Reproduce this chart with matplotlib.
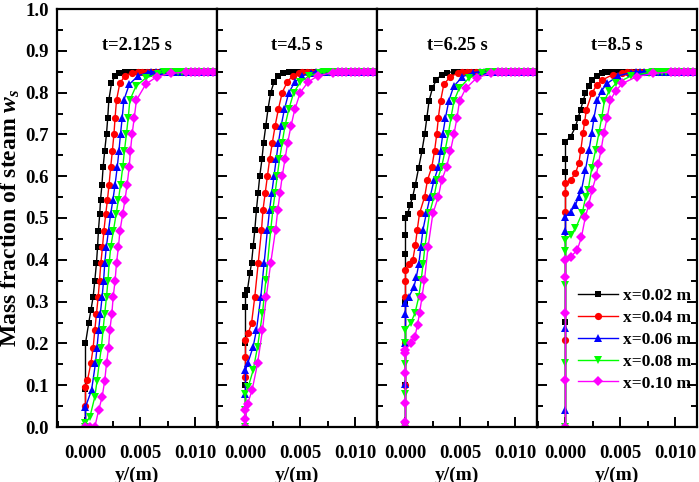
import numpy as np
import matplotlib
matplotlib.use("Agg")
import matplotlib.pyplot as plt
from matplotlib.ticker import MultipleLocator, FormatStrFormatter

plt.rcParams['font.family'] = ['Liberation Serif', 'DejaVu Serif']
plt.rcParams['font.weight'] = 'bold'
plt.rcParams['mathtext.fontset'] = 'custom'
plt.rcParams['mathtext.it'] = 'Liberation Serif:italic:bold'
plt.rcParams['mathtext.rm'] = 'Liberation Serif:bold'

# ---------------- data (y in mm, mass fraction w) ----------------
panel_titles = ["t=2.125 s", "t=4.5 s", "t=6.25 s", "t=8.5 s"]
series_labels = ["x=0.02 m", "x=0.04 m", "x=0.06 m", "x=0.08 m", "x=0.10 m"]
plateau_value = 0.85
plateau_y_mm = [3.6, 4.0, 4.4, 4.8, 5.2, 5.6, 6.0, 6.4, 6.8, 7.2, 7.6, 8.0, 8.4,
                8.8, 9.2, 9.6, 10.0, 10.4, 10.8, 11.2, 11.6, 12.0]

# t = 2.125 s
p1_x002 = [(0, 0), (0, 0.09), (0, 0.20), (0.3, 0.25), (0.5, 0.28), (0.7, 0.312), (0.85, 0.35),
           (1.0, 0.392), (1.1, 0.43), (1.18, 0.47), (1.3, 0.51), (1.37, 0.543), (1.5, 0.58),
           (1.61, 0.622), (1.75, 0.66), (1.92, 0.702), (2.03, 0.74), (2.13, 0.782),
           (2.37, 0.822), (2.7, 0.84), (3.1, 0.848)]
p1_x004 = [(0, 0), (0, 0.05), (0, 0.096), (0.18, 0.112), (0.49, 0.152), (0.7, 0.19), (0.85, 0.232),
           (1.0, 0.27), (1.16, 0.312), (1.28, 0.35), (1.4, 0.392), (1.55, 0.43), (1.68, 0.47),
           (1.85, 0.51), (2.0, 0.543), (2.15, 0.58), (2.3, 0.622), (2.45, 0.66), (2.6, 0.702),
           (2.7, 0.74), (2.83, 0.782), (3.13, 0.822), (3.6, 0.84), (4.2, 0.847)]
p1_x006 = [(0, 0), (0, 0.048), (0.55, 0.088), (0.91, 0.152), (1.05, 0.19), (1.2, 0.232),
           (1.35, 0.27), (1.52, 0.312), (1.65, 0.35), (1.76, 0.392), (1.9, 0.43), (2.1, 0.47),
           (2.3, 0.51), (2.5, 0.543), (2.7, 0.58), (2.9, 0.622), (3.05, 0.66), (3.2, 0.702),
           (3.35, 0.74), (3.5, 0.782), (4.0, 0.82), (4.8, 0.84), (5.7, 0.848)]
p1_x008 = [(0, 0), (0, 0.01), (0.4, 0.024), (0.85, 0.072), (1.05, 0.11), (1.25, 0.152),
           (1.45, 0.19), (1.6, 0.232), (1.75, 0.27), (1.92, 0.312), (2.05, 0.35), (2.16, 0.392),
           (2.3, 0.43), (2.55, 0.47), (2.8, 0.51), (3.0, 0.543), (3.2, 0.58), (3.4, 0.622),
           (3.55, 0.66), (3.74, 0.702), (3.9, 0.74), (4.05, 0.782), (4.6, 0.815), (5.5, 0.835),
           (6.6, 0.845)]
p1_x010 = [(0, 0), (0.4, 0), (0.85, 0), (1.2, 0.04), (1.52, 0.072), (1.75, 0.11), (1.92, 0.152),
           (2.1, 0.19), (2.22, 0.232), (2.4, 0.27), (2.53, 0.312), (2.7, 0.35), (2.83, 0.392),
           (3.0, 0.43), (3.15, 0.47), (3.4, 0.51), (3.6, 0.543), (3.8, 0.58), (3.99, 0.622),
           (4.1, 0.66), (4.26, 0.702), (4.45, 0.74), (4.65, 0.782), (5.5, 0.82), (6.5, 0.838),
           (7.8, 0.846), (9.2, 0.849)]

# t = 4.5 s
p2_x002 = [(0, 0), (0, 0.10), (0, 0.20), (0, 0.288), (0, 0.316), (0.18, 0.328), (0.4, 0.368),
           (0.55, 0.392), (0.7, 0.432), (0.85, 0.471), (1.0, 0.52), (1.15, 0.56), (1.3, 0.60),
           (1.5, 0.64), (1.65, 0.68), (1.85, 0.72), (2.05, 0.76), (2.3, 0.80), (2.6, 0.825),
           (3.0, 0.84), (3.4, 0.848)]
p2_x004 = [(0, 0), (0, 0.12), (0, 0.168), (0, 0.208), (0.25, 0.224), (0.55, 0.248), (0.85, 0.312),
           (1.16, 0.392), (1.46, 0.471), (1.6, 0.52), (1.8, 0.56), (2.0, 0.60), (2.2, 0.64),
           (2.45, 0.68), (2.7, 0.72), (3.0, 0.76), (3.35, 0.80), (3.8, 0.825), (4.3, 0.84),
           (4.9, 0.848)]
p2_x006 = [(0, 0), (0, 0.08), (0, 0.136), (0.2, 0.152), (0.7, 0.192), (1.0, 0.232), (1.4, 0.312),
           (1.7, 0.392), (2.0, 0.471), (2.2, 0.52), (2.4, 0.56), (2.6, 0.60), (2.8, 0.64),
           (3.0, 0.68), (3.25, 0.72), (3.55, 0.76), (3.95, 0.80), (4.5, 0.825), (5.2, 0.84),
           (6.0, 0.848)]
p2_x008 = [(0, 0), (0, 0.04), (0, 0.08), (0.25, 0.096), (0.7, 0.136), (1.1, 0.192), (1.55, 0.272),
           (1.86, 0.352), (2.3, 0.471), (2.5, 0.52), (2.7, 0.56), (2.9, 0.60), (3.1, 0.64),
           (3.35, 0.68), (3.6, 0.72), (3.95, 0.76), (4.4, 0.80), (5.0, 0.825), (5.8, 0.84),
           (6.8, 0.848)]
p2_x010 = [(0, 0), (0, 0.02), (0, 0.04), (0.2, 0.056), (0.6, 0.088), (1.1, 0.152), (1.55, 0.232),
           (1.9, 0.312), (2.3, 0.392), (2.74, 0.471), (2.95, 0.52), (3.15, 0.56), (3.35, 0.60),
           (3.6, 0.64), (3.85, 0.68), (4.15, 0.72), (4.5, 0.76), (5.0, 0.80), (5.7, 0.825),
           (6.6, 0.84), (8.0, 0.848)]

# t = 6.25 s
p3_x002 = [(0, 0), (0, 0.10), (0, 0.20), (0, 0.30), (0, 0.415), (0, 0.46), (0, 0.50),
           (0.2, 0.51), (0.4, 0.53), (0.65, 0.55), (0.9, 0.58), (1.2, 0.62), (1.5, 0.66),
           (1.75, 0.70), (1.95, 0.74), (2.15, 0.78), (2.45, 0.81), (2.8, 0.83), (3.3, 0.843),
           (3.8, 0.848)]
p3_x004 = [(0, 0), (0, 0.10), (0, 0.20), (0, 0.31), (0, 0.35), (0, 0.376), (0.3, 0.39),
           (0.67, 0.40), (0.9, 0.435), (1.07, 0.471), (1.28, 0.511), (1.75, 0.551), (2.0, 0.59),
           (2.4, 0.622), (2.65, 0.66), (2.85, 0.70), (3.0, 0.74), (3.2, 0.78), (3.5, 0.82),
           (4.1, 0.838), (4.8, 0.847)]
p3_x006 = [(0, 0), (0, 0.104), (0, 0.20), (0, 0.27), (0, 0.296), (0.31, 0.311), (0.77, 0.335),
           (1.0, 0.36), (1.22, 0.391), (1.4, 0.43), (1.59, 0.471), (1.9, 0.511), (2.25, 0.551),
           (2.6, 0.59), (3.0, 0.622), (3.2, 0.66), (3.4, 0.70), (3.65, 0.74), (3.95, 0.78),
           (4.4, 0.815), (5.2, 0.838), (6.2, 0.848)]
p3_x008 = [(0, 0), (0, 0.08), (0, 0.15), (0, 0.20), (0, 0.232), (0.46, 0.248), (0.86, 0.272),
           (1.2, 0.31), (1.43, 0.351), (1.6, 0.39), (1.77, 0.431), (2.19, 0.511), (2.6, 0.551),
           (2.9, 0.59), (3.3, 0.622), (3.6, 0.66), (3.9, 0.70), (4.15, 0.74), (4.42, 0.78),
           (4.9, 0.81), (5.8, 0.835), (7.0, 0.847)]
p3_x010 = [(0, 0), (0, 0.013), (0, 0.057), (0, 0.128), (0, 0.176), (0, 0.184), (0.46, 0.20),
           (0.86, 0.216), (1.1, 0.245), (1.28, 0.272), (1.5, 0.31), (1.73, 0.351), (2.06, 0.431),
           (2.5, 0.511), (3.0, 0.551), (3.3, 0.59), (3.75, 0.622), (4.1, 0.66), (4.42, 0.70),
           (4.7, 0.74), (4.93, 0.78), (5.5, 0.81), (6.5, 0.835), (7.8, 0.847)]

# t = 8.5 s
p4_x002 = [(0, 0), (0, 0.252), (0, 0.61), (0, 0.64), (0, 0.683), (0.46, 0.694), (0.91, 0.718),
           (1.15, 0.74), (1.37, 0.758), (1.6, 0.78), (1.82, 0.798), (2.1, 0.815), (2.43, 0.83),
           (2.9, 0.84), (3.35, 0.846)]
p4_x004 = [(0, 0), (0, 0.208), (0, 0.515), (0, 0.559), (0, 0.583), (0.46, 0.591), (0.91, 0.607),
           (1.22, 0.631), (1.4, 0.663), (1.6, 0.703), (1.75, 0.73), (1.9, 0.758), (2.4, 0.798),
           (2.85, 0.818), (3.35, 0.83), (4.3, 0.843), (5.2, 0.848)]
p4_x006 = [(0, 0), (0, 0.04), (0, 0.237), (0, 0.47), (0, 0.503), (0.46, 0.515), (0.91, 0.531),
           (1.2, 0.551), (1.46, 0.567), (1.82, 0.615), (2.15, 0.663), (2.4, 0.703), (2.6, 0.74),
           (2.9, 0.782), (3.3, 0.805), (3.8, 0.822), (4.8, 0.84), (6.0, 0.848)]
p4_x008 = [(0, 0), (0, 0.152), (0, 0.34), (0, 0.42), (0, 0.447), (0.46, 0.459), (0.91, 0.475),
           (1.52, 0.511), (1.85, 0.551), (2.07, 0.567), (2.4, 0.62), (2.75, 0.663), (3.05, 0.703),
           (3.3, 0.74), (3.55, 0.78), (4.0, 0.805), (4.6, 0.822), (6.0, 0.84), (7.6, 0.848)]
p4_x010 = [(0, 0), (0, 0.112), (0, 0.272), (0, 0.36), (0, 0.40), (0.46, 0.407), (1.07, 0.423),
           (1.46, 0.455), (1.82, 0.503), (2.1, 0.53), (2.43, 0.567), (2.8, 0.60), (3.0, 0.63),
           (3.25, 0.663), (3.5, 0.703), (3.8, 0.74), (4.1, 0.782), (4.6, 0.805), (5.2, 0.822),
           (6.5, 0.838), (8.0, 0.846), (9.6, 0.849)]

panels = [
    [p1_x002, p1_x004, p1_x006, p1_x008, p1_x010],
    [p2_x002, p2_x004, p2_x006, p2_x008, p2_x010],
    [p3_x002, p3_x004, p3_x006, p3_x008, p3_x010],
    [p4_x002, p4_x004, p4_x006, p4_x008, p4_x010],
]

# ---------------- styles ----------------
colors = ["#000000", "#FF0000", "#0000FF", "#00FF00", "#FF00FF"]
markers = ["s", "o", "^", "v", "D"]
msizes = [4.5, 5.2, 5.6, 5.6, 4.6]

fig = plt.figure(figsize=(6.99, 4.82), dpi=100)
left, right = 57 / 699, 697 / 699
bottom, top = 1 - 427 / 482, 1 - 9 / 482
axes = []
w_ax = (right - left) / 4
for i in range(4):
    ax = fig.add_axes([left + i * w_ax, bottom, w_ax, top - bottom])
    axes.append(ax)

for i, ax in enumerate(axes):
    for j, pts in enumerate(panels[i]):
        ys = [p[0] for p in pts]
        ws = [p[1] for p in pts]
        last = ys[-1]
        for py in plateau_y_mm:
            if py > last + 0.2:
                ys.append(py)
                ws.append(plateau_value)
        ys = np.array(ys) / 1000.0
        ax.plot(ys, ws, color=colors[j], marker=markers[j], markersize=msizes[j],
                linewidth=1.0, markeredgewidth=0, label=series_labels[j], clip_on=True)
    ax.set_xlim(-0.0026, 0.0120)
    ax.set_ylim(0.0, 1.0)
    ax.xaxis.set_major_locator(MultipleLocator(0.005))
    ax.xaxis.set_minor_locator(MultipleLocator(0.0025))
    ax.xaxis.set_major_formatter(FormatStrFormatter('%.3f'))
    ax.yaxis.set_major_locator(MultipleLocator(0.1))
    ax.yaxis.set_minor_locator(MultipleLocator(0.05))
    ax.yaxis.set_major_formatter(FormatStrFormatter('%.1f'))
    ax.tick_params(axis='both', which='major', direction='in', length=7, width=1.4,
                   labelsize=13.5)
    ax.tick_params(axis='x', which='major', pad=13)
    ax.tick_params(axis='y', which='major', pad=6)
    ax.tick_params(axis='both', which='minor', direction='in', length=4, width=1.4)
    ax.tick_params(axis='y', which='both', left=True, right=(i == 3),
                   labelleft=(i == 0))
    ax.tick_params(axis='x', which='both', top=False)
    for sp in ax.spines.values():
        sp.set_linewidth(1.6)
    for lab in ax.get_xticklabels() + ax.get_yticklabels():
        lab.set_fontweight('bold')
    ax.text(0.5, 0.913, panel_titles[i], transform=ax.transAxes, ha='center', va='center',
            fontsize=13.3, fontweight='bold')
    ax.set_xlabel("y/(m)", fontsize=14, fontweight='bold', labelpad=3)

axes[0].set_ylabel(r"Mass fraction of steam $w_s$", fontsize=17, fontweight='bold', labelpad=2)

leg = axes[3].legend(loc='lower right', bbox_to_anchor=(1.03, 0.06), frameon=False,
                     fontsize=12.5, handlelength=2.3, handletextpad=0.3, labelspacing=0.33,
                     borderaxespad=0.2)
for t in leg.get_texts():
    t.set_fontweight('bold')

fig.savefig("out.png", dpi=100)
